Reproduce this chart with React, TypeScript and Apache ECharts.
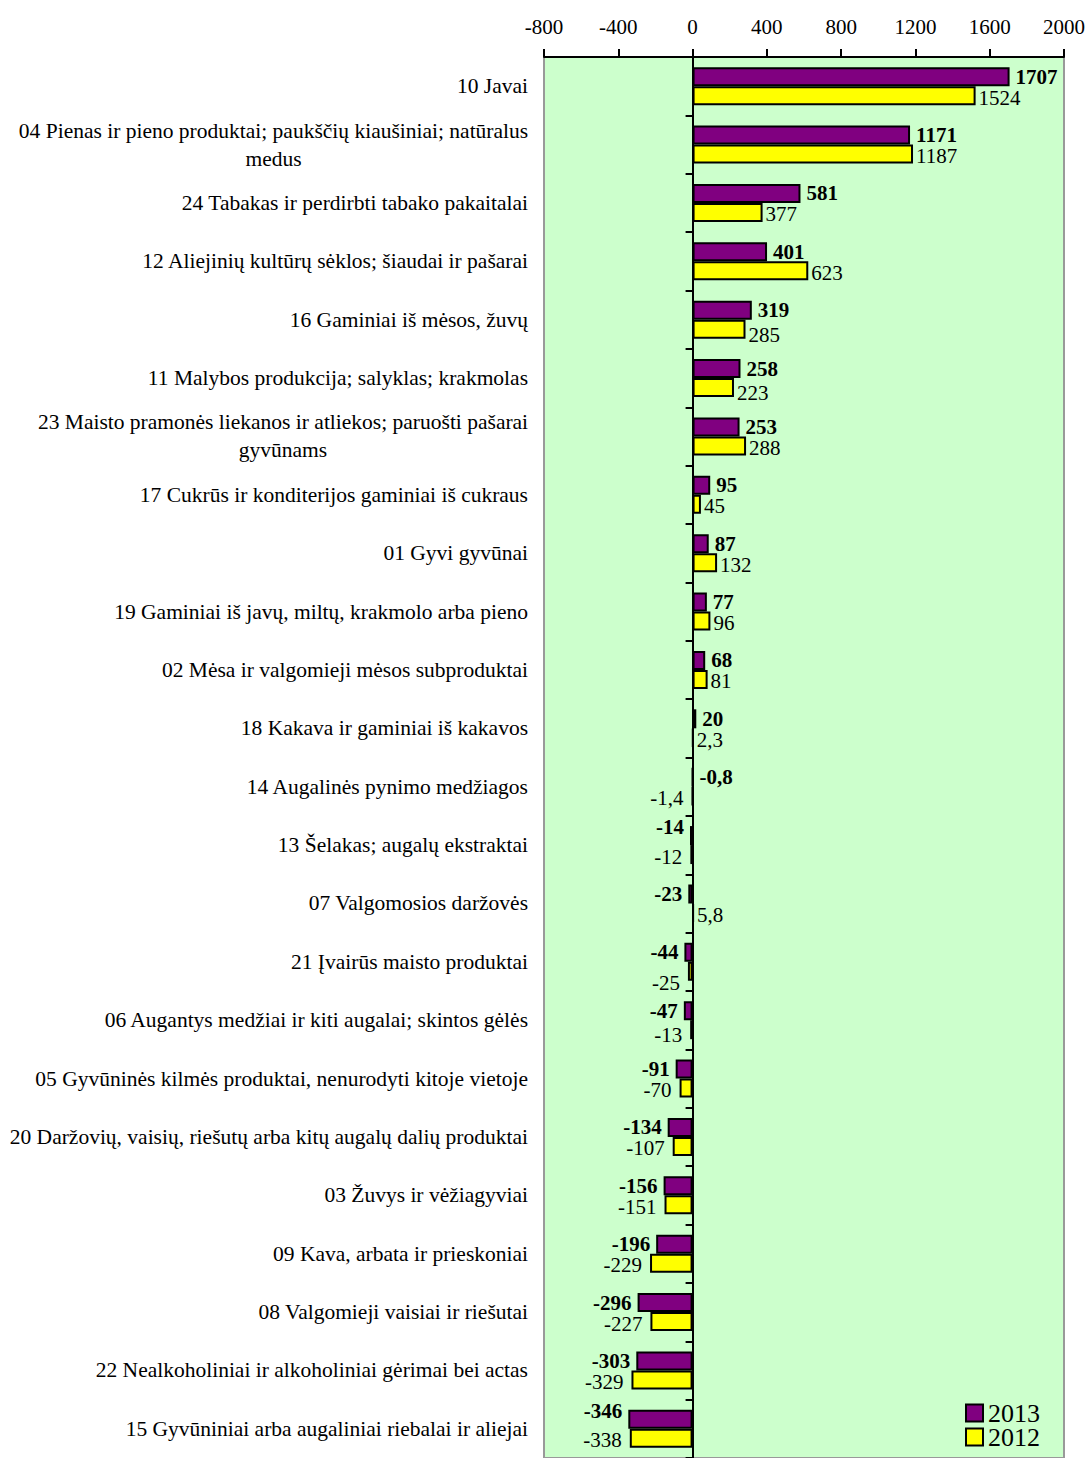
import React, { useEffect, useRef } from "react";
import * as echarts from "echarts";

const categories: string[] = [
  "10 Javai",
  "04 Pienas ir pieno produktai; paukščių kiaušiniai; natūralus\nmedus",
  "24 Tabakas ir perdirbti tabako pakaitalai",
  "12 Aliejinių kultūrų sėklos; šiaudai ir pašarai",
  "16 Gaminiai iš mėsos, žuvų",
  "11 Malybos produkcija; salyklas; krakmolas",
  "23 Maisto pramonės liekanos ir atliekos; paruošti pašarai\ngyvūnams",
  "17 Cukrūs ir konditerijos gaminiai iš cukraus",
  "01 Gyvi gyvūnai",
  "19 Gaminiai iš javų, miltų, krakmolo arba pieno",
  "02 Mėsa ir valgomieji mėsos subproduktai",
  "18 Kakava ir gaminiai iš kakavos",
  "14 Augalinės pynimo medžiagos",
  "13 Šelakas; augalų ekstraktai",
  "07 Valgomosios daržovės",
  "21 Įvairūs maisto produktai",
  "06 Augantys medžiai ir kiti augalai; skintos gėlės",
  "05 Gyvūninės kilmės produktai, nenurodyti kitoje vietoje",
  "20 Daržovių, vaisių, riešutų arba kitų augalų dalių produktai",
  "03 Žuvys ir vėžiagyviai",
  "09 Kava, arbata ir prieskoniai",
  "08 Valgomieji vaisiai ir riešutai",
  "22 Nealkoholiniai ir alkoholiniai gėrimai bei actas",
  "15 Gyvūniniai arba augaliniai riebalai ir aliejai",
];

const values2013: number[] = [
  1707, 1171, 581, 401, 319, 258, 253, 95, 87, 77, 68, 20, -0.8, -14, -23, -44,
  -47, -91, -134, -156, -196, -296, -303, -346,
];

const values2012: number[] = [
  1524, 1187, 377, 623, 285, 223, 288, 45, 132, 96, 81, 2.3, -1.4, -12, 5.8, -25,
  -13, -70, -107, -151, -229, -227, -329, -338,
];

const xTickValues: number[] = [-800, -400, 0, 400, 800, 1200, 1600, 2000];

const seriesNames = ["2013", "2012"];

const FONT = '"Liberation Serif", "Times New Roman", serif';
const PURPLE = "#800080";
const YELLOW = "#FFFF00";
const GREEN = "#CCFFCC";

const fmt = (v: number) => String(v).replace(".", ",");

// label placement tweaks (style only)
const tweaks2013: Record<number, any> = {
  12: { position: "right" },
  13: { offset: [0, -9] },
  23: { offset: [0, -8] },
};
const tweaks2012: Record<number, any> = {
  4: { offset: [0, 6] },
  5: { offset: [0, 5] },
  15: { offset: [0, 12] },
  16: { offset: [0, 5] },
};

export default function App() {
  const ref = useRef<HTMLDivElement>(null);

  useEffect(() => {
    if (!ref.current) return;
    const chart = echarts.init(ref.current, null, { renderer: "svg" });

    const catFontSize = 21.5;
    const canvas = document.createElement("canvas");
    const ctx = canvas.getContext("2d")!;
    ctx.font = `${catFontSize}px ${FONT}`;

    const widthOf = (parts: string[]) =>
      Math.round(Math.max(...parts.map((p) => ctx.measureText(p).width)));

    const catFormatter = (val: string) => {
      const parts = val.split("\n");
      if (parts.length === 1) return `{l|${val}}`;
      const w = widthOf(parts);
      return parts.map((p) => `{c${w}|${p}}`).join("\n");
    };

    const rich: Record<string, any> = {
      l: { fontFamily: FONT, fontSize: catFontSize, color: "#000", lineHeight: 28 },
    };
    categories.forEach((c) => {
      const parts = c.split("\n");
      if (parts.length > 1) {
        const w = widthOf(parts);
        rich["c" + w] = {
          fontFamily: FONT,
          fontSize: catFontSize,
          color: "#000",
          lineHeight: 28,
          width: w,
          align: "center",
        };
      }
    });

    const minX = xTickValues[0];
    const maxX = xTickValues[xTickValues.length - 1];
    const step = xTickValues[1] - xTickValues[0];

    const band = 58.6;

    const legendBase = {
      orient: "vertical",
      left: 965,
      itemWidth: 17,
      itemHeight: 17,
      icon: "rect",
      padding: 0,
      textStyle: { fontFamily: FONT, fontSize: 26, color: "#000", padding: [0, 0, 0, 0] },
    };

    const option: any = {
      animation: false,
      grid: {
        left: 544,
        right: 25,
        top: 57,
        height: band * categories.length,
        show: true,
        backgroundColor: GREEN,
        borderColor: "#999999",
        borderWidth: 2,
      },
      legend: [
        { ...legendBase, data: [seriesNames[0]], top: 1400 },
        { ...legendBase, data: [seriesNames[1]], top: 1424 },
      ],
      xAxis: {
        type: "value",
        position: "top",
        min: minX,
        max: maxX,
        interval: step,
        axisLine: { show: true, lineStyle: { color: "#000", width: 2 } },
        axisTick: { show: true, length: 8, lineStyle: { color: "#000", width: 2 } },
        splitLine: { show: false },
        axisLabel: {
          fontFamily: FONT,
          fontSize: 21,
          color: "#000",
          margin: 20,
          formatter: (v: number) => String(v),
        },
      },
      yAxis: [
        {
          type: "category",
          data: categories,
          inverse: true,
          position: "left",
          axisLine: { show: false, onZero: false },
          axisTick: { show: false },
          axisLabel: {
            margin: 16,
            interval: 0,
            formatter: catFormatter,
            rich,
          },
        },
        {
          type: "category",
          data: categories,
          inverse: true,
          position: "left",
          axisLine: { show: true, onZero: true, lineStyle: { color: "#000", width: 2 } },
          axisTick: {
            show: true,
            interval: 0,
            length: 7,
            lineStyle: { color: "#000", width: 2 },
          },
          axisLabel: { show: false },
        },
      ],
      series: [
        {
          name: seriesNames[0],
          type: "bar",
          yAxisIndex: 0,
          barWidth: 19,
          barGap: "0%",
          itemStyle: { color: PURPLE, borderColor: "#000", borderWidth: 2 },
          data: values2013.map((v, i) => ({
            value: v,
            label: {
              show: true,
              position: v >= 0 ? "right" : "left",
              distance: 6,
              ...(tweaks2013[i] || {}),
            },
          })),
          label: {
            show: true,
            fontFamily: FONT,
            fontSize: 21,
            fontWeight: "bold",
            color: "#000",
            formatter: (p: any) => fmt(p.value),
          },
        },
        {
          name: seriesNames[1],
          type: "bar",
          yAxisIndex: 0,
          barWidth: 19,
          barGap: "0%",
          itemStyle: { color: YELLOW, borderColor: "#000", borderWidth: 2 },
          data: values2012.map((v, i) => ({
            value: v,
            label: {
              show: true,
              position: v >= 0 ? "right" : "left",
              distance: v >= 0 ? 3 : 8,
              offset: [0, 2],
              ...(tweaks2012[i] || {}),
            },
          })),
          label: {
            show: true,
            fontFamily: FONT,
            fontSize: 21,
            color: "#000",
            formatter: (p: any) => fmt(p.value),
          },
        },
      ],
    };

    chart.setOption(option);
    return () => chart.dispose();
  }, []);

  return (
    <div
      ref={ref}
      style={{ position: "absolute", left: 0, top: 0, width: 1089, height: 1458 }}
    />
  );
}
